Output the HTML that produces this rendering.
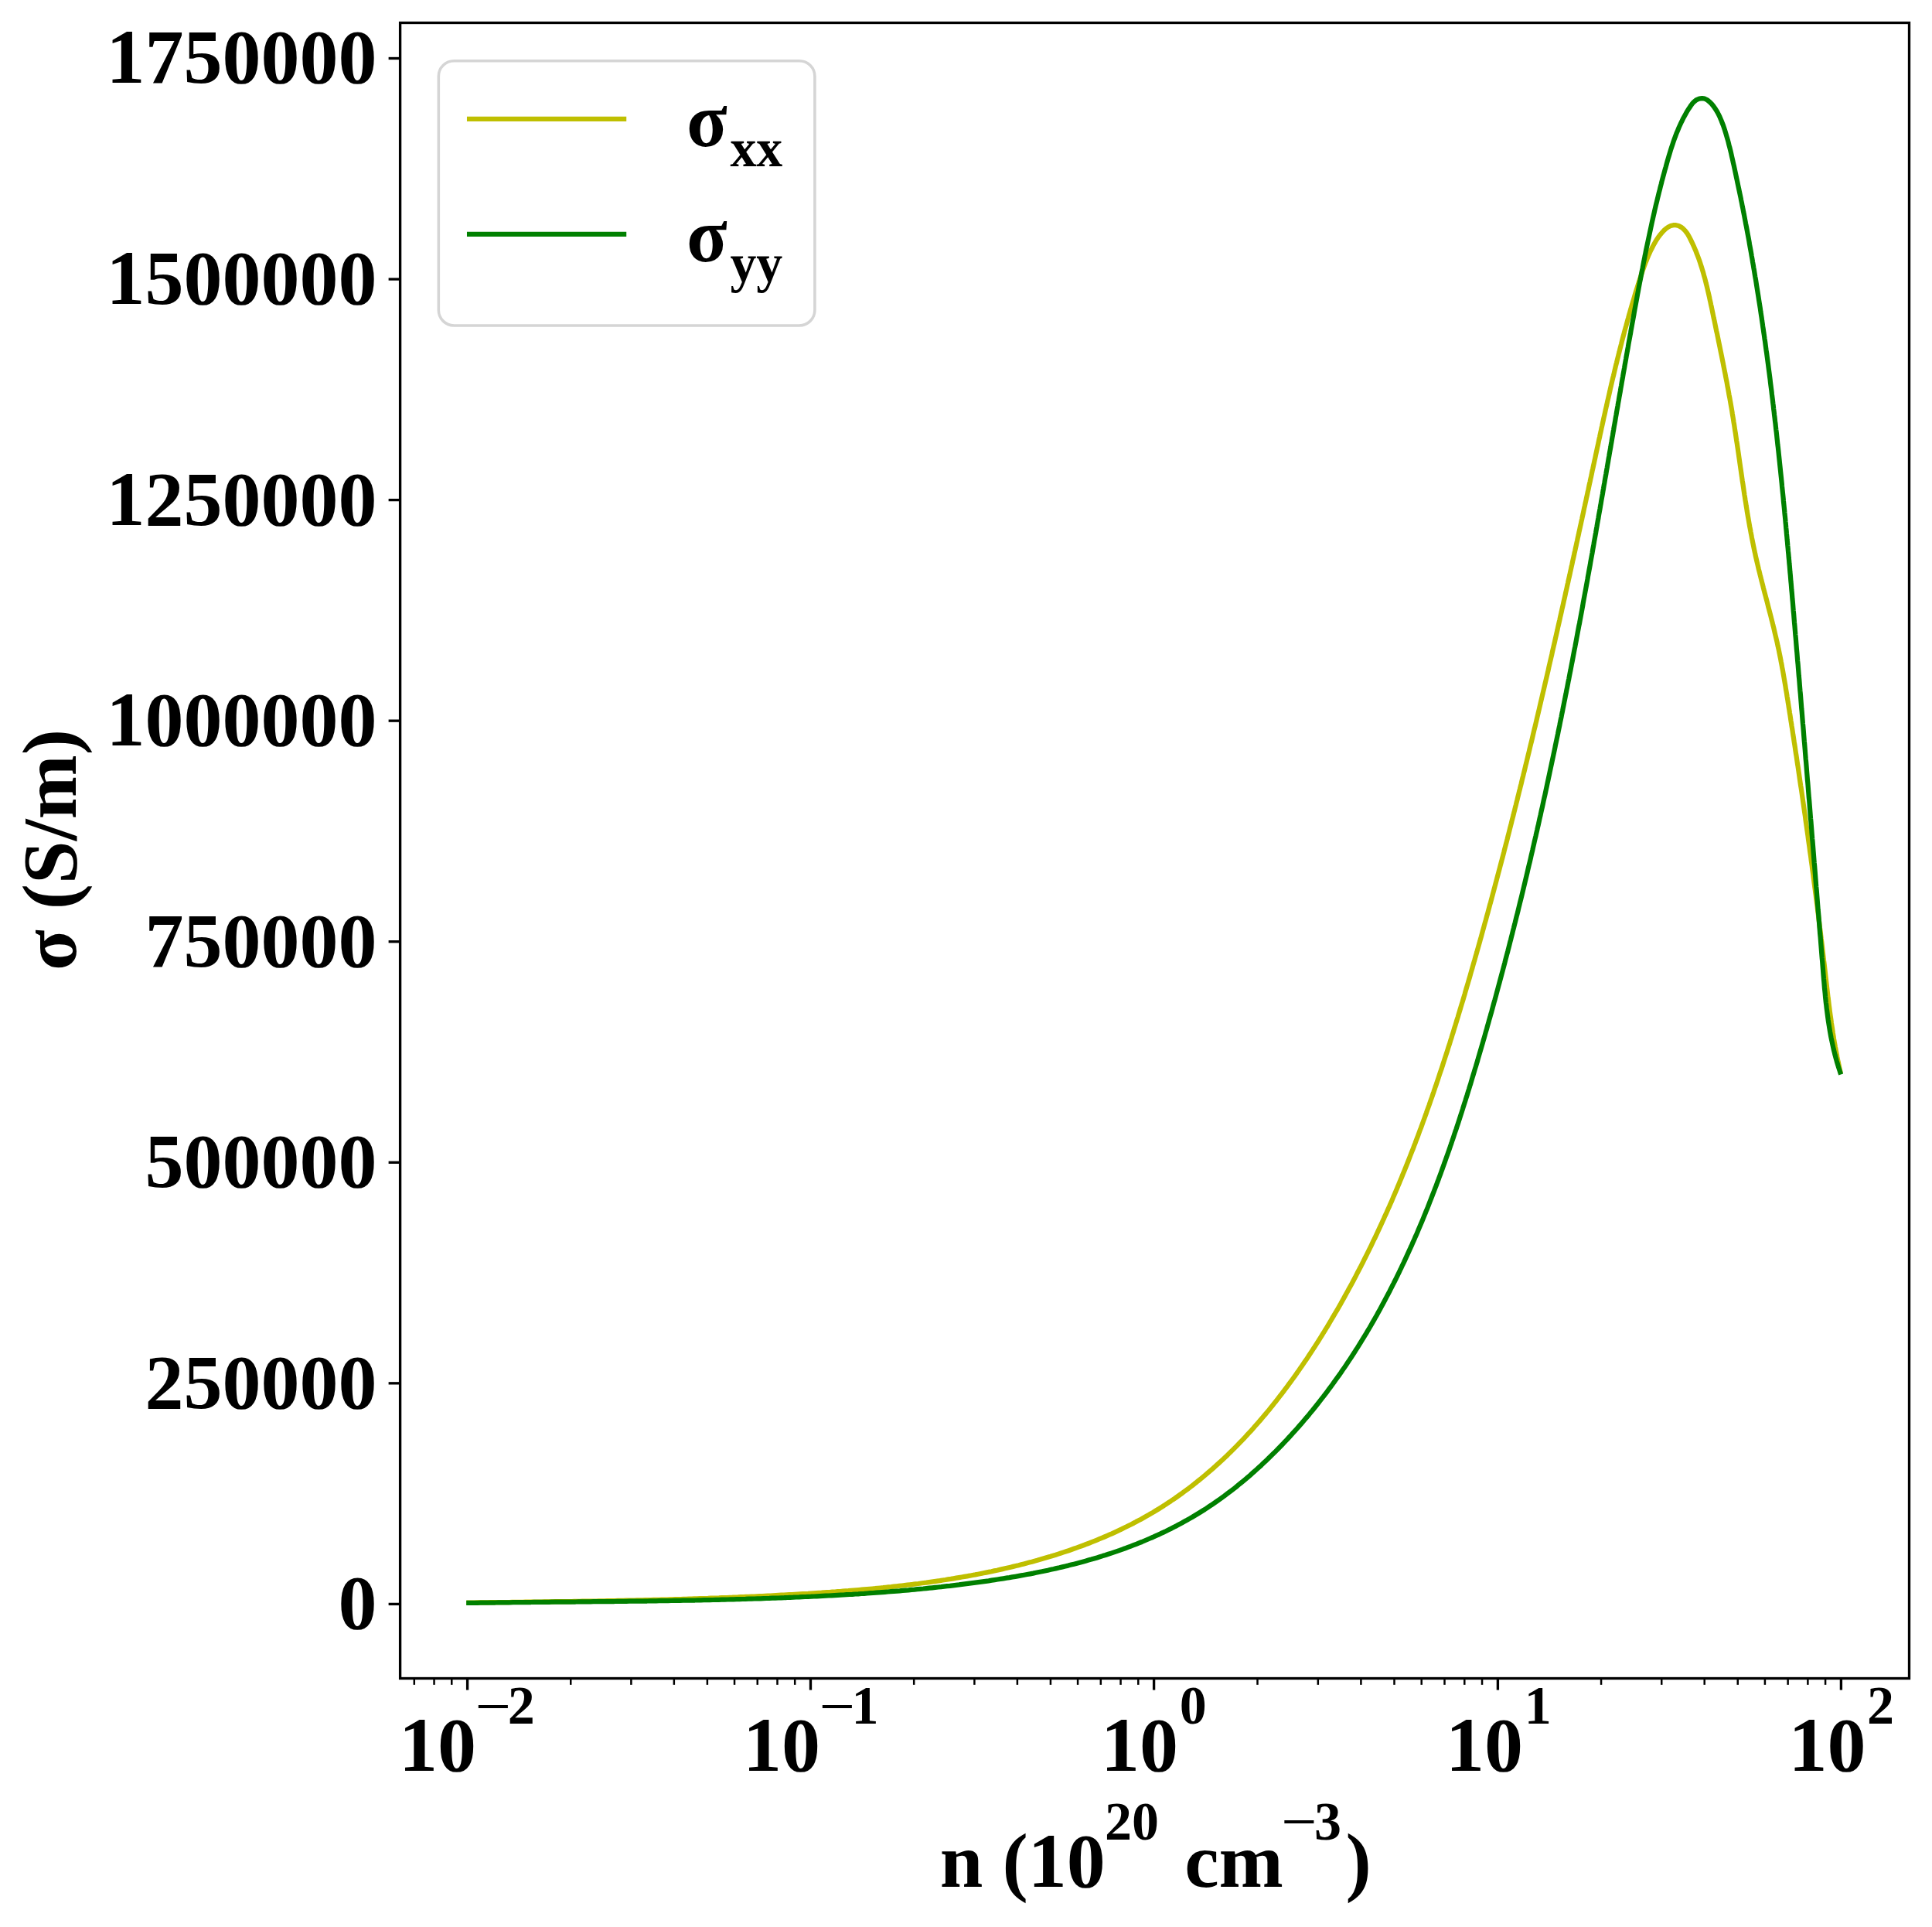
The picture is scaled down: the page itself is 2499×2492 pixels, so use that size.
<!DOCTYPE html>
<html lang="en"><head><meta charset="utf-8"><title>Conductivity vs carrier concentration</title>
<style>html,body{margin:0;padding:0;background:#fff}svg{display:block}text{font-family:"Liberation Serif", "DejaVu Serif", serif;font-weight:bold;fill:#000}</style>
</head><body>
<svg width="2499" height="2492" viewBox="0 0 2499 2492">
<rect width="2499" height="2492" fill="#fff"/>
<g fill="none" stroke-width="6.25" stroke-linecap="square" stroke-linejoin="round">
<polyline stroke="#bfbf00" points="606.5,2072.5 609.9,2072.5 613.4,2072.5 616.9,2072.4 620.3,2072.4 623.8,2072.3 627.3,2072.3 630.8,2072.3 634.3,2072.2 637.7,2072.2 641.2,2072.2 644.7,2072.1 648.2,2072.1 651.7,2072.0 655.2,2072.0 658.7,2072.0 662.2,2071.9 665.7,2071.9 669.1,2071.8 672.6,2071.8 676.1,2071.8 679.6,2071.7 683.2,2071.7 686.7,2071.6 690.2,2071.6 693.7,2071.6 697.2,2071.5 700.7,2071.5 704.2,2071.4 707.7,2071.4 711.2,2071.3 714.7,2071.3 718.2,2071.2 721.8,2071.2 725.3,2071.2 728.8,2071.1 732.3,2071.1 735.8,2071.0 739.4,2071.0 742.9,2070.9 746.4,2070.8 749.9,2070.8 753.4,2070.7 757.0,2070.7 760.5,2070.6 764.0,2070.6 767.5,2070.5 771.1,2070.5 774.6,2070.4 778.1,2070.3 781.7,2070.3 785.2,2070.2 788.7,2070.1 792.2,2070.1 795.8,2070.0 799.3,2069.9 802.8,2069.9 806.4,2069.8 809.9,2069.7 813.4,2069.7 817.0,2069.6 820.5,2069.5 824.0,2069.4 827.6,2069.3 831.1,2069.3 834.6,2069.2 838.1,2069.1 841.7,2069.0 845.2,2068.9 848.7,2068.8 852.3,2068.8 855.8,2068.7 859.3,2068.6 862.9,2068.5 866.4,2068.4 869.9,2068.3 873.5,2068.2 877.0,2068.1 880.5,2068.0 884.0,2067.9 887.6,2067.8 891.1,2067.7 894.6,2067.6 898.1,2067.4 901.7,2067.3 905.2,2067.2 908.7,2067.1 912.2,2067.0 915.8,2066.9 919.3,2066.7 922.8,2066.6 926.3,2066.5 929.9,2066.4 933.4,2066.2 936.9,2066.1 940.4,2066.0 943.9,2065.8 947.4,2065.7 951.0,2065.5 954.5,2065.4 958.0,2065.2 961.5,2065.1 965.0,2064.9 968.5,2064.8 972.0,2064.6 975.5,2064.5 979.0,2064.3 982.5,2064.1 986.0,2064.0 989.5,2063.8 993.0,2063.6 996.5,2063.5 1000.0,2063.3 1003.5,2063.1 1007.0,2062.9 1010.5,2062.7 1014.0,2062.6 1017.5,2062.4 1021.0,2062.2 1024.4,2062.0 1027.9,2061.8 1031.4,2061.6 1034.9,2061.4 1038.4,2061.2 1041.8,2061.0 1045.3,2060.8 1048.8,2060.5 1052.3,2060.3 1055.7,2060.1 1059.2,2059.9 1062.7,2059.7 1066.1,2059.4 1069.6,2059.2 1073.0,2059.0 1076.5,2058.7 1080.0,2058.5 1083.4,2058.2 1086.9,2058.0 1090.3,2057.7 1093.8,2057.4 1097.3,2057.2 1100.7,2056.9 1104.2,2056.6 1107.6,2056.3 1111.1,2056.0 1114.6,2055.7 1118.0,2055.4 1121.5,2055.1 1124.9,2054.8 1128.4,2054.5 1131.9,2054.2 1135.3,2053.8 1138.8,2053.5 1142.3,2053.2 1145.8,2052.8 1149.2,2052.4 1152.7,2052.1 1156.2,2051.7 1159.7,2051.3 1163.2,2050.9 1166.7,2050.5 1170.1,2050.1 1173.6,2049.7 1177.1,2049.3 1180.6,2048.9 1184.1,2048.4 1187.7,2048.0 1191.2,2047.5 1194.7,2047.0 1198.2,2046.6 1201.7,2046.1 1205.2,2045.6 1208.7,2045.1 1212.2,2044.6 1215.8,2044.1 1219.3,2043.5 1222.8,2043.0 1226.3,2042.4 1229.9,2041.9 1233.4,2041.3 1236.9,2040.7 1240.4,2040.1 1243.9,2039.5 1247.5,2038.9 1251.0,2038.3 1254.5,2037.7 1258.0,2037.0 1261.5,2036.4 1265.0,2035.7 1268.6,2035.0 1272.1,2034.3 1275.6,2033.6 1279.1,2032.9 1282.6,2032.2 1286.1,2031.4 1289.6,2030.7 1293.1,2029.9 1296.6,2029.1 1300.1,2028.3 1303.6,2027.5 1307.1,2026.7 1310.5,2025.9 1314.0,2025.0 1317.5,2024.2 1321.0,2023.3 1324.4,2022.4 1327.9,2021.5 1331.3,2020.6 1334.8,2019.7 1338.2,2018.7 1341.7,2017.8 1345.1,2016.8 1348.5,2015.8 1351.9,2014.8 1355.3,2013.8 1358.8,2012.8 1362.2,2011.7 1365.6,2010.7 1368.9,2009.6 1372.3,2008.5 1375.7,2007.4 1379.1,2006.3 1382.4,2005.2 1385.8,2004.0 1389.1,2002.8 1392.5,2001.6 1395.8,2000.4 1399.1,1999.2 1402.4,1998.0 1405.7,1996.7 1409.0,1995.5 1412.3,1994.2 1415.6,1992.9 1418.8,1991.6 1422.1,1990.2 1425.3,1988.9 1428.6,1987.5 1431.8,1986.1 1435.0,1984.7 1438.2,1983.3 1441.4,1981.8 1444.6,1980.3 1447.7,1978.9 1450.9,1977.4 1454.1,1975.8 1457.2,1974.3 1460.3,1972.7 1463.4,1971.2 1466.5,1969.6 1469.6,1967.9 1472.7,1966.3 1475.8,1964.7 1478.8,1963.0 1481.8,1961.3 1484.9,1959.6 1487.9,1957.8 1490.9,1956.1 1493.9,1954.3 1496.8,1952.5 1499.8,1950.7 1502.7,1948.8 1505.6,1947.0 1508.5,1945.1 1511.4,1943.2 1514.3,1941.3 1517.2,1939.3 1520.1,1937.4 1522.9,1935.4 1525.7,1933.4 1528.5,1931.4 1531.3,1929.3 1534.1,1927.3 1536.9,1925.2 1539.6,1923.1 1542.4,1921.0 1545.1,1918.8 1547.8,1916.7 1550.5,1914.5 1553.2,1912.3 1555.9,1910.1 1558.6,1907.9 1561.2,1905.7 1563.8,1903.4 1566.5,1901.1 1569.1,1898.9 1571.7,1896.5 1574.3,1894.2 1576.8,1891.9 1579.4,1889.5 1581.9,1887.2 1584.5,1884.8 1587.0,1882.4 1589.5,1879.9 1592.0,1877.5 1594.4,1875.1 1596.9,1872.6 1599.4,1870.1 1601.8,1867.6 1604.2,1865.1 1606.7,1862.6 1609.1,1860.1 1611.5,1857.5 1613.8,1854.9 1616.2,1852.4 1618.6,1849.8 1620.9,1847.2 1623.2,1844.5 1625.6,1841.9 1627.9,1839.3 1630.2,1836.6 1632.4,1834.0 1634.7,1831.3 1637.0,1828.6 1639.2,1825.9 1641.5,1823.2 1643.7,1820.4 1645.9,1817.7 1648.1,1814.9 1650.3,1812.2 1652.5,1809.4 1654.6,1806.6 1656.8,1803.8 1658.9,1801.0 1661.1,1798.2 1663.2,1795.4 1665.3,1792.6 1667.4,1789.7 1669.5,1786.9 1671.6,1784.0 1673.6,1781.2 1675.7,1778.3 1677.7,1775.4 1679.8,1772.5 1681.8,1769.6 1683.8,1766.7 1685.8,1763.8 1687.8,1760.8 1689.8,1757.9 1691.8,1755.0 1693.7,1752.0 1695.7,1749.0 1697.6,1746.1 1699.6,1743.1 1701.5,1740.1 1703.4,1737.1 1705.3,1734.2 1707.2,1731.2 1709.1,1728.2 1710.9,1725.1 1712.8,1722.1 1714.6,1719.1 1716.5,1716.1 1718.3,1713.1 1720.1,1710.0 1721.9,1707.0 1723.7,1703.9 1725.5,1700.9 1727.3,1697.8 1729.1,1694.8 1730.9,1691.7 1732.6,1688.7 1734.4,1685.6 1736.1,1682.5 1737.8,1679.4 1739.5,1676.4 1741.2,1673.3 1742.9,1670.2 1744.6,1667.1 1746.3,1664.0 1748.0,1660.9 1749.7,1657.8 1751.3,1654.7 1753.0,1651.6 1754.6,1648.4 1756.2,1645.3 1757.8,1642.2 1759.5,1639.1 1761.1,1635.9 1762.7,1632.8 1764.2,1629.7 1765.8,1626.5 1767.4,1623.4 1769.0,1620.2 1770.5,1617.1 1772.1,1613.9 1773.6,1610.8 1775.1,1607.6 1776.6,1604.4 1778.2,1601.3 1779.7,1598.1 1781.2,1594.9 1782.7,1591.7 1784.1,1588.6 1785.6,1585.4 1787.1,1582.2 1788.5,1579.0 1790.0,1575.8 1791.4,1572.6 1792.9,1569.4 1794.3,1566.2 1795.7,1563.0 1797.2,1559.8 1798.6,1556.6 1800.0,1553.4 1801.4,1550.1 1802.7,1546.9 1804.1,1543.7 1805.5,1540.5 1806.9,1537.2 1808.2,1534.0 1809.6,1530.8 1810.9,1527.5 1812.3,1524.3 1813.6,1521.0 1814.9,1517.8 1816.3,1514.5 1817.6,1511.3 1818.9,1508.0 1820.2,1504.8 1821.5,1501.5 1822.8,1498.2 1824.0,1495.0 1825.3,1491.7 1826.6,1488.4 1827.9,1485.2 1829.1,1481.9 1830.4,1478.6 1831.6,1475.3 1832.9,1472.0 1834.1,1468.8 1835.3,1465.5 1836.5,1462.2 1837.8,1458.9 1839.0,1455.6 1840.2,1452.3 1841.4,1449.0 1842.6,1445.7 1843.8,1442.4 1845.0,1439.1 1846.1,1435.8 1847.3,1432.5 1848.5,1429.2 1849.6,1425.9 1850.8,1422.5 1852.0,1419.2 1853.1,1415.9 1854.3,1412.6 1855.4,1409.3 1856.5,1405.9 1857.7,1402.6 1858.8,1399.3 1859.9,1396.0 1861.0,1392.6 1862.1,1389.3 1863.2,1386.0 1864.4,1382.6 1865.5,1379.3 1866.5,1376.0 1867.6,1372.6 1868.7,1369.3 1869.8,1365.9 1870.9,1362.6 1872.0,1359.2 1873.0,1355.9 1874.1,1352.5 1875.2,1349.2 1876.2,1345.8 1877.3,1342.5 1878.3,1339.1 1879.4,1335.8 1880.4,1332.4 1881.4,1329.0 1882.5,1325.7 1883.5,1322.3 1884.5,1319.0 1885.6,1315.6 1886.6,1312.2 1887.6,1308.9 1888.6,1305.5 1889.6,1302.1 1890.6,1298.8 1891.7,1295.4 1892.7,1292.0 1893.7,1288.7 1894.7,1285.3 1895.6,1281.9 1896.6,1278.5 1897.6,1275.2 1898.6,1271.8 1899.6,1268.4 1900.6,1265.0 1901.6,1261.6 1902.5,1258.3 1903.5,1254.9 1904.5,1251.5 1905.4,1248.1 1906.4,1244.7 1907.4,1241.4 1908.3,1238.0 1909.3,1234.6 1910.3,1231.2 1911.2,1227.8 1912.2,1224.4 1913.1,1221.1 1914.1,1217.7 1915.0,1214.3 1916.0,1210.9 1916.9,1207.5 1917.8,1204.1 1918.8,1200.7 1919.7,1197.3 1920.6,1194.0 1921.6,1190.6 1922.5,1187.2 1923.4,1183.8 1924.4,1180.4 1925.3,1177.0 1926.2,1173.6 1927.1,1170.2 1928.1,1166.8 1929.0,1163.4 1929.9,1160.0 1930.8,1156.6 1931.7,1153.2 1932.6,1149.9 1933.5,1146.5 1934.4,1143.1 1935.3,1139.7 1936.2,1136.3 1937.1,1132.9 1938.0,1129.5 1938.9,1126.1 1939.8,1122.7 1940.7,1119.3 1941.6,1115.9 1942.5,1112.5 1943.4,1109.1 1944.3,1105.7 1945.2,1102.3 1946.0,1098.9 1946.9,1095.5 1947.8,1092.1 1948.7,1088.7 1949.6,1085.3 1950.4,1081.9 1951.3,1078.5 1952.2,1075.0 1953.0,1071.6 1953.9,1068.2 1954.8,1064.8 1955.6,1061.4 1956.5,1058.0 1957.4,1054.6 1958.2,1051.2 1959.1,1047.8 1959.9,1044.4 1960.8,1041.0 1961.6,1037.6 1962.5,1034.2 1963.3,1030.8 1964.2,1027.3 1965.0,1023.9 1965.9,1020.5 1966.7,1017.1 1967.6,1013.7 1968.4,1010.3 1969.2,1006.9 1970.1,1003.5 1970.9,1000.1 1971.8,996.6 1972.6,993.2 1973.4,989.8 1974.3,986.4 1975.1,983.0 1975.9,979.6 1976.7,976.2 1977.6,972.7 1978.4,969.3 1979.2,965.9 1980.0,962.5 1980.9,959.1 1981.7,955.7 1982.5,952.2 1983.3,948.8 1984.1,945.4 1984.9,942.0 1985.8,938.6 1986.6,935.1 1987.4,931.7 1988.2,928.3 1989.0,924.9 1989.8,921.5 1990.6,918.1 1991.4,914.6 1992.2,911.2 1993.0,907.8 1993.8,904.4 1994.6,900.9 1995.4,897.5 1996.2,894.1 1997.0,890.7 1997.8,887.3 1998.6,883.8 1999.4,880.4 2000.2,877.0 2001.0,873.6 2001.8,870.1 2002.6,866.7 2003.3,863.3 2004.1,859.9 2004.9,856.4 2005.7,853.0 2006.5,849.6 2007.3,846.2 2008.0,842.7 2008.8,839.3 2009.6,835.9 2010.4,832.5 2011.2,829.0 2011.9,825.6 2012.7,822.2 2013.5,818.7 2014.3,815.3 2015.0,811.9 2015.8,808.5 2016.6,805.0 2017.4,801.6 2018.1,798.2 2018.9,794.7 2019.7,791.3 2020.4,787.9 2021.2,784.5 2022.0,781.0 2022.7,777.6 2023.5,774.2 2024.3,770.7 2025.0,767.3 2025.8,763.9 2026.6,760.4 2027.3,757.0 2028.1,753.6 2028.8,750.1 2029.6,746.7 2030.4,743.3 2031.1,739.9 2031.9,736.4 2032.6,733.0 2033.4,729.6 2034.1,726.1 2034.9,722.7 2035.7,719.3 2036.4,715.8 2037.2,712.4 2037.9,709.0 2038.7,705.5 2039.4,702.1 2040.2,698.7 2040.9,695.2 2041.7,691.8 2042.4,688.4 2043.2,684.9 2043.9,681.5 2044.7,678.0 2045.4,674.6 2046.2,671.2 2046.9,667.7 2047.7,664.3 2048.4,660.9 2049.1,657.4 2049.9,654.0 2050.6,650.6 2051.4,647.1 2052.1,643.7 2052.9,640.3 2053.6,636.8 2054.4,633.4 2055.1,629.9 2055.8,626.5 2056.6,623.1 2057.3,619.6 2058.1,616.2 2058.8,612.8 2059.5,609.3 2060.3,605.9 2061.0,602.5 2061.8,599.0 2062.5,595.6 2063.3,592.1 2064.0,588.7 2064.7,585.3 2065.5,581.8 2066.2,578.4 2067.0,575.0 2067.7,571.5 2068.4,568.1 2069.2,564.7 2069.9,561.2 2070.7,557.8 2071.4,554.3 2072.2,550.9 2072.9,547.5 2073.7,544.0 2074.4,540.6 2075.2,537.2 2076.0,533.7 2076.7,530.3 2077.5,526.9 2078.3,523.5 2079.0,520.0 2079.8,516.6 2080.6,513.2 2081.4,509.7 2082.2,506.3 2082.9,502.9 2083.7,499.5 2084.5,496.0 2085.3,492.6 2086.1,489.2 2087.0,485.8 2087.8,482.4 2088.6,478.9 2089.4,475.5 2090.2,472.1 2091.1,468.7 2091.9,465.3 2092.8,461.9 2093.6,458.5 2094.5,455.1 2095.3,451.7 2096.2,448.2 2097.1,444.8 2097.9,441.4 2098.8,438.0 2099.7,434.6 2100.6,431.2 2101.5,427.8 2102.4,424.5 2103.4,421.1 2104.3,417.7 2105.2,414.3 2106.2,410.9 2107.1,407.5 2108.1,404.1 2109.0,400.8 2110.0,397.4 2111.0,394.0 2112.0,390.6 2113.0,387.3 2114.0,383.9 2115.0,380.5 2116.0,377.1 2117.1,373.8 2118.1,370.4 2119.2,367.1 2120.2,363.7 2121.3,360.4 2122.4,357.0 2123.5,353.7 2124.6,350.3 2125.8,347.0 2127.0,343.7 2128.2,340.4 2129.5,337.2 2130.8,333.9 2132.1,330.7 2133.6,327.5 2135.0,324.3 2136.6,321.2 2138.2,318.0 2139.9,315.0 2141.6,311.9 2143.5,309.0 2145.5,306.1 2147.7,303.2 2150.0,300.5 2152.4,297.9 2155.1,295.5 2158.0,293.5 2161.1,292.0 2164.4,291.2 2167.9,291.2 2171.2,292.0 2174.3,293.6 2177.2,295.8 2179.7,298.4 2181.9,301.2 2183.8,304.2 2185.5,307.3 2187.1,310.5 2188.6,313.6 2190.1,316.8 2191.5,320.0 2192.9,323.2 2194.2,326.5 2195.5,329.8 2196.7,333.0 2197.9,336.3 2199.0,339.6 2200.1,343.0 2201.2,346.3 2202.2,349.7 2203.2,353.0 2204.1,356.4 2205.1,359.8 2206.0,363.2 2206.8,366.6 2207.7,370.0 2208.5,373.4 2209.3,376.9 2210.1,380.3 2210.9,383.7 2211.6,387.2 2212.4,390.6 2213.1,394.1 2213.9,397.5 2214.6,401.0 2215.3,404.4 2216.0,407.8 2216.7,411.3 2217.5,414.7 2218.2,418.2 2218.9,421.6 2219.6,425.1 2220.3,428.5 2221.1,431.9 2221.8,435.4 2222.5,438.8 2223.2,442.3 2223.9,445.7 2224.6,449.1 2225.3,452.6 2226.0,456.0 2226.7,459.4 2227.4,462.9 2228.1,466.3 2228.8,469.8 2229.4,473.2 2230.1,476.6 2230.8,480.1 2231.5,483.5 2232.1,486.9 2232.8,490.4 2233.5,493.8 2234.1,497.3 2234.7,500.7 2235.4,504.2 2236.0,507.6 2236.6,511.1 2237.3,514.5 2237.9,518.0 2238.5,521.4 2239.1,524.9 2239.7,528.3 2240.3,531.8 2240.8,535.3 2241.4,538.7 2242.0,542.2 2242.5,545.7 2243.1,549.1 2243.6,552.6 2244.1,556.1 2244.7,559.5 2245.2,563.0 2245.7,566.5 2246.2,570.0 2246.8,573.5 2247.3,577.0 2247.8,580.4 2248.3,583.9 2248.8,587.4 2249.3,590.9 2249.8,594.4 2250.3,597.9 2250.8,601.4 2251.3,604.9 2251.8,608.3 2252.3,611.8 2252.8,615.3 2253.3,618.8 2253.8,622.3 2254.4,625.8 2254.9,629.3 2255.4,632.8 2255.9,636.2 2256.4,639.7 2257.0,643.2 2257.5,646.7 2258.1,650.2 2258.6,653.6 2259.2,657.1 2259.7,660.6 2260.3,664.1 2260.9,667.6 2261.5,671.0 2262.1,674.5 2262.7,678.0 2263.3,681.4 2264.0,684.9 2264.6,688.3 2265.3,691.8 2265.9,695.3 2266.6,698.7 2267.3,702.2 2268.0,705.6 2268.7,709.0 2269.4,712.5 2270.2,715.9 2270.9,719.3 2271.7,722.8 2272.5,726.2 2273.3,729.6 2274.1,733.0 2274.9,736.5 2275.8,739.9 2276.6,743.3 2277.5,746.7 2278.3,750.1 2279.2,753.5 2280.1,756.9 2280.9,760.3 2281.8,763.7 2282.7,767.1 2283.6,770.5 2284.5,773.9 2285.4,777.3 2286.3,780.7 2287.1,784.1 2288.0,787.5 2288.9,790.9 2289.8,794.3 2290.7,797.7 2291.5,801.1 2292.4,804.5 2293.2,807.9 2294.1,811.3 2294.9,814.7 2295.7,818.2 2296.5,821.6 2297.3,825.0 2298.1,828.4 2298.9,831.8 2299.6,835.3 2300.4,838.7 2301.1,842.1 2301.8,845.6 2302.5,849.0 2303.2,852.5 2303.8,855.9 2304.5,859.4 2305.1,862.8 2305.8,866.3 2306.4,869.8 2307.0,873.2 2307.6,876.7 2308.2,880.1 2308.8,883.6 2309.4,887.1 2309.9,890.6 2310.5,894.0 2311.1,897.5 2311.6,901.0 2312.2,904.4 2312.7,907.9 2313.3,911.4 2313.8,914.9 2314.4,918.3 2314.9,921.8 2315.5,925.3 2316.0,928.8 2316.5,932.2 2317.1,935.7 2317.6,939.2 2318.2,942.7 2318.7,946.1 2319.2,949.6 2319.8,953.1 2320.3,956.6 2320.8,960.0 2321.4,963.5 2321.9,967.0 2322.4,970.5 2322.9,973.9 2323.5,977.4 2324.0,980.9 2324.5,984.4 2325.0,987.9 2325.6,991.3 2326.1,994.8 2326.6,998.3 2327.1,1001.8 2327.6,1005.2 2328.1,1008.7 2328.6,1012.2 2329.1,1015.7 2329.7,1019.1 2330.2,1022.6 2330.7,1026.1 2331.2,1029.6 2331.7,1033.1 2332.2,1036.5 2332.7,1040.0 2333.2,1043.5 2333.7,1047.0 2334.2,1050.5 2334.7,1053.9 2335.2,1057.4 2335.6,1060.9 2336.1,1064.4 2336.6,1067.9 2337.1,1071.3 2337.6,1074.8 2338.1,1078.3 2338.6,1081.8 2339.0,1085.3 2339.5,1088.7 2340.0,1092.2 2340.5,1095.7 2340.9,1099.2 2341.4,1102.7 2341.9,1106.1 2342.4,1109.6 2342.8,1113.1 2343.3,1116.6 2343.8,1120.1 2344.2,1123.6 2344.7,1127.0 2345.2,1130.5 2345.6,1134.0 2346.1,1137.5 2346.5,1141.0 2347.0,1144.5 2347.4,1147.9 2347.9,1151.4 2348.3,1154.9 2348.8,1158.4 2349.2,1161.9 2349.7,1165.4 2350.1,1168.9 2350.6,1172.3 2351.0,1175.8 2351.4,1179.3 2351.9,1182.8 2352.3,1186.3 2352.7,1189.8 2353.2,1193.3 2353.6,1196.8 2354.0,1200.2 2354.5,1203.7 2354.9,1207.2 2355.3,1210.7 2355.7,1214.2 2356.2,1217.7 2356.6,1221.2 2357.0,1224.7 2357.4,1228.2 2357.8,1231.7 2358.2,1235.1 2358.6,1238.6 2359.0,1242.1 2359.5,1245.6 2359.9,1249.1 2360.3,1252.6 2360.7,1256.1 2361.1,1259.6 2361.5,1263.1 2361.9,1266.6 2362.3,1270.1 2362.7,1273.6 2363.1,1277.1 2363.5,1280.6 2363.9,1284.0 2364.3,1287.5 2364.7,1291.0 2365.2,1294.5 2365.6,1298.0 2366.0,1301.5 2366.5,1305.0 2366.9,1308.5 2367.4,1311.9 2367.9,1315.4 2368.4,1318.9 2368.8,1322.4 2369.3,1325.9 2369.9,1329.3 2370.4,1332.8 2370.9,1336.3 2371.5,1339.7 2372.0,1343.2 2372.6,1346.7 2373.2,1350.1 2373.8,1353.6 2374.5,1357.0 2375.1,1360.5 2375.8,1363.9 2376.4,1367.4 2377.1,1370.8 2377.9,1374.3 2378.6,1377.7 2379.3,1381.1 2380.1,1384.6"/>
<polyline stroke="#008000" points="606.3,2072.9 610.1,2072.9 613.9,2072.8 617.8,2072.8 621.6,2072.7 625.4,2072.7 629.2,2072.6 633.1,2072.6 636.9,2072.5 640.7,2072.5 644.6,2072.4 648.4,2072.4 652.3,2072.3 656.1,2072.3 659.9,2072.3 663.8,2072.2 667.6,2072.2 671.5,2072.1 675.3,2072.1 679.1,2072.1 683.0,2072.0 686.8,2072.0 690.7,2071.9 694.5,2071.9 698.4,2071.9 702.2,2071.8 706.1,2071.8 709.9,2071.8 713.8,2071.7 717.6,2071.7 721.5,2071.7 725.3,2071.6 729.2,2071.6 733.0,2071.6 736.9,2071.5 740.7,2071.5 744.6,2071.5 748.4,2071.4 752.3,2071.4 756.1,2071.3 760.0,2071.3 763.8,2071.3 767.7,2071.2 771.5,2071.2 775.4,2071.2 779.3,2071.1 783.1,2071.1 787.0,2071.0 790.8,2071.0 794.7,2071.0 798.5,2070.9 802.4,2070.9 806.3,2070.8 810.1,2070.8 814.0,2070.7 817.8,2070.7 821.7,2070.7 825.5,2070.6 829.4,2070.6 833.3,2070.5 837.1,2070.5 841.0,2070.4 844.8,2070.4 848.7,2070.3 852.6,2070.2 856.4,2070.2 860.3,2070.1 864.1,2070.1 868.0,2070.0 871.8,2069.9 875.7,2069.9 879.6,2069.8 883.4,2069.7 887.3,2069.7 891.1,2069.6 895.0,2069.5 898.9,2069.5 902.7,2069.4 906.6,2069.3 910.4,2069.2 914.3,2069.1 918.1,2069.1 922.0,2069.0 925.8,2068.9 929.7,2068.8 933.5,2068.7 937.4,2068.6 941.3,2068.5 945.1,2068.4 949.0,2068.3 952.8,2068.2 956.7,2068.1 960.5,2068.0 964.4,2067.9 968.2,2067.7 972.1,2067.6 975.9,2067.5 979.8,2067.4 983.6,2067.3 987.5,2067.1 991.3,2067.0 995.1,2066.9 999.0,2066.7 1002.8,2066.6 1006.7,2066.5 1010.5,2066.3 1014.4,2066.2 1018.2,2066.0 1022.0,2065.8 1025.9,2065.7 1029.7,2065.5 1033.6,2065.4 1037.4,2065.2 1041.2,2065.0 1045.1,2064.8 1048.9,2064.7 1052.7,2064.5 1056.6,2064.3 1060.4,2064.1 1064.2,2063.9 1068.1,2063.7 1071.9,2063.5 1075.7,2063.3 1079.5,2063.1 1083.4,2062.9 1087.2,2062.7 1091.0,2062.5 1094.9,2062.2 1098.7,2062.0 1102.5,2061.8 1106.3,2061.5 1110.2,2061.3 1114.0,2061.0 1117.8,2060.8 1121.6,2060.5 1125.5,2060.2 1129.3,2060.0 1133.1,2059.7 1136.9,2059.4 1140.8,2059.1 1144.6,2058.8 1148.4,2058.5 1152.2,2058.2 1156.1,2057.9 1159.9,2057.6 1163.7,2057.3 1167.5,2056.9 1171.4,2056.6 1175.2,2056.3 1179.0,2055.9 1182.8,2055.6 1186.7,2055.2 1190.5,2054.8 1194.3,2054.5 1198.2,2054.1 1202.0,2053.7 1205.8,2053.3 1209.7,2052.9 1213.5,2052.5 1217.3,2052.1 1221.2,2051.6 1225.0,2051.2 1228.8,2050.8 1232.7,2050.3 1236.5,2049.8 1240.4,2049.4 1244.2,2048.9 1248.0,2048.4 1251.9,2047.9 1255.7,2047.4 1259.6,2046.9 1263.4,2046.4 1267.3,2045.9 1271.1,2045.4 1275.0,2044.8 1278.8,2044.3 1282.6,2043.7 1286.5,2043.1 1290.3,2042.5 1294.2,2041.9 1298.0,2041.3 1301.8,2040.7 1305.7,2040.1 1309.5,2039.4 1313.3,2038.8 1317.2,2038.1 1321.0,2037.4 1324.8,2036.7 1328.6,2036.0 1332.5,2035.3 1336.3,2034.6 1340.1,2033.8 1343.9,2033.0 1347.7,2032.3 1351.5,2031.5 1355.3,2030.7 1359.1,2029.8 1362.9,2029.0 1366.6,2028.1 1370.4,2027.3 1374.2,2026.4 1377.9,2025.5 1381.7,2024.6 1385.5,2023.6 1389.2,2022.7 1393.0,2021.7 1396.7,2020.7 1400.4,2019.7 1404.1,2018.7 1407.9,2017.6 1411.6,2016.6 1415.3,2015.5 1419.0,2014.4 1422.6,2013.3 1426.3,2012.1 1430.0,2011.0 1433.6,2009.8 1437.3,2008.6 1440.9,2007.4 1444.6,2006.1 1448.2,2004.9 1451.8,2003.6 1455.4,2002.3 1459.0,2000.9 1462.6,1999.6 1466.2,1998.2 1469.8,1996.8 1473.3,1995.4 1476.9,1994.0 1480.4,1992.5 1483.9,1991.0 1487.4,1989.5 1491.0,1988.0 1494.4,1986.4 1497.9,1984.9 1501.4,1983.2 1504.9,1981.6 1508.3,1980.0 1511.7,1978.3 1515.2,1976.6 1518.6,1974.8 1522.0,1973.1 1525.3,1971.3 1528.7,1969.5 1532.1,1967.6 1535.4,1965.8 1538.7,1963.9 1542.0,1962.0 1545.3,1960.0 1548.6,1958.0 1551.9,1956.0 1555.1,1954.0 1558.4,1952.0 1561.6,1949.9 1564.8,1947.7 1568.0,1945.6 1571.2,1943.4 1574.4,1941.2 1577.5,1939.0 1580.6,1936.7 1583.7,1934.5 1586.9,1932.1 1589.9,1929.8 1593.0,1927.5 1596.1,1925.1 1599.1,1922.7 1602.1,1920.2 1605.1,1917.8 1608.1,1915.3 1611.1,1912.8 1614.0,1910.3 1617.0,1907.8 1619.9,1905.2 1622.8,1902.6 1625.7,1900.0 1628.6,1897.4 1631.5,1894.8 1634.3,1892.1 1637.1,1889.4 1639.9,1886.8 1642.7,1884.0 1645.5,1881.3 1648.3,1878.6 1651.0,1875.8 1653.8,1873.0 1656.5,1870.3 1659.2,1867.5 1661.8,1864.6 1664.5,1861.8 1667.1,1859.0 1669.8,1856.1 1672.4,1853.2 1675.0,1850.4 1677.6,1847.5 1680.1,1844.6 1682.7,1841.7 1685.2,1838.7 1687.7,1835.8 1690.2,1832.9 1692.7,1829.9 1695.1,1826.9 1697.6,1824.0 1700.0,1821.0 1702.4,1818.0 1704.8,1815.0 1707.2,1811.9 1709.5,1808.9 1711.9,1805.9 1714.2,1802.8 1716.5,1799.8 1718.8,1796.7 1721.1,1793.6 1723.4,1790.5 1725.6,1787.4 1727.8,1784.3 1730.1,1781.2 1732.3,1778.1 1734.5,1775.0 1736.6,1771.8 1738.8,1768.7 1741.0,1765.5 1743.1,1762.3 1745.2,1759.1 1747.3,1756.0 1749.4,1752.8 1751.5,1749.5 1753.5,1746.3 1755.6,1743.1 1757.6,1739.9 1759.6,1736.6 1761.6,1733.4 1763.6,1730.1 1765.6,1726.9 1767.6,1723.6 1769.5,1720.3 1771.5,1717.0 1773.4,1713.7 1775.3,1710.4 1777.2,1707.1 1779.1,1703.8 1781.0,1700.4 1782.8,1697.1 1784.7,1693.8 1786.5,1690.4 1788.3,1687.0 1790.1,1683.7 1791.9,1680.3 1793.7,1676.9 1795.5,1673.5 1797.3,1670.1 1799.0,1666.7 1800.7,1663.3 1802.5,1659.9 1804.2,1656.5 1805.9,1653.1 1807.6,1649.6 1809.3,1646.2 1810.9,1642.7 1812.6,1639.3 1814.2,1635.8 1815.9,1632.4 1817.5,1628.9 1819.1,1625.4 1820.7,1621.9 1822.3,1618.4 1823.9,1614.9 1825.5,1611.4 1827.0,1607.9 1828.6,1604.4 1830.1,1600.9 1831.7,1597.4 1833.2,1593.9 1834.7,1590.3 1836.2,1586.8 1837.7,1583.2 1839.2,1579.7 1840.7,1576.1 1842.1,1572.6 1843.6,1569.0 1845.0,1565.4 1846.5,1561.9 1847.9,1558.3 1849.3,1554.7 1850.7,1551.1 1852.1,1547.5 1853.5,1543.9 1854.9,1540.3 1856.3,1536.7 1857.7,1533.1 1859.0,1529.5 1860.4,1525.9 1861.7,1522.3 1863.1,1518.6 1864.4,1515.0 1865.7,1511.4 1867.0,1507.8 1868.3,1504.1 1869.6,1500.5 1870.9,1496.8 1872.2,1493.2 1873.5,1489.5 1874.8,1485.9 1876.0,1482.2 1877.3,1478.6 1878.5,1474.9 1879.8,1471.2 1881.0,1467.6 1882.2,1463.9 1883.5,1460.2 1884.7,1456.5 1885.9,1452.9 1887.1,1449.2 1888.3,1445.5 1889.5,1441.8 1890.7,1438.1 1891.9,1434.4 1893.0,1430.7 1894.2,1427.1 1895.4,1423.4 1896.5,1419.7 1897.7,1416.0 1898.8,1412.3 1900.0,1408.6 1901.1,1404.9 1902.3,1401.2 1903.4,1397.4 1904.5,1393.7 1905.6,1390.0 1906.7,1386.3 1907.8,1382.6 1909.0,1378.9 1910.1,1375.2 1911.2,1371.5 1912.2,1367.8 1913.3,1364.1 1914.4,1360.3 1915.5,1356.6 1916.6,1352.9 1917.7,1349.2 1918.7,1345.5 1919.8,1341.8 1920.9,1338.0 1921.9,1334.3 1923.0,1330.6 1924.0,1326.9 1925.1,1323.2 1926.1,1319.4 1927.2,1315.7 1928.2,1312.0 1929.3,1308.3 1930.3,1304.6 1931.3,1300.9 1932.3,1297.1 1933.4,1293.4 1934.4,1289.7 1935.4,1286.0 1936.4,1282.2 1937.4,1278.5 1938.4,1274.8 1939.4,1271.1 1940.4,1267.4 1941.4,1263.6 1942.4,1259.9 1943.4,1256.2 1944.4,1252.5 1945.4,1248.7 1946.4,1245.0 1947.3,1241.3 1948.3,1237.5 1949.3,1233.8 1950.3,1230.1 1951.2,1226.4 1952.2,1222.6 1953.1,1218.9 1954.1,1215.2 1955.0,1211.5 1956.0,1207.7 1956.9,1204.0 1957.9,1200.3 1958.8,1196.5 1959.8,1192.8 1960.7,1189.1 1961.6,1185.3 1962.6,1181.6 1963.5,1177.9 1964.4,1174.1 1965.3,1170.4 1966.2,1166.7 1967.2,1162.9 1968.1,1159.2 1969.0,1155.5 1969.9,1151.7 1970.8,1148.0 1971.7,1144.3 1972.6,1140.5 1973.5,1136.8 1974.4,1133.1 1975.3,1129.3 1976.1,1125.6 1977.0,1121.8 1977.9,1118.1 1978.8,1114.4 1979.7,1110.6 1980.5,1106.9 1981.4,1103.1 1982.3,1099.4 1983.1,1095.7 1984.0,1091.9 1984.8,1088.2 1985.7,1084.4 1986.6,1080.7 1987.4,1076.9 1988.3,1073.2 1989.1,1069.4 1990.0,1065.7 1990.8,1062.0 1991.6,1058.2 1992.5,1054.5 1993.3,1050.7 1994.1,1047.0 1995.0,1043.2 1995.8,1039.5 1996.6,1035.7 1997.4,1032.0 1998.3,1028.2 1999.1,1024.5 1999.9,1020.7 2000.7,1017.0 2001.5,1013.2 2002.3,1009.5 2003.1,1005.7 2003.9,1002.0 2004.7,998.2 2005.5,994.4 2006.3,990.7 2007.1,986.9 2007.9,983.2 2008.7,979.4 2009.5,975.7 2010.3,971.9 2011.1,968.2 2011.8,964.4 2012.6,960.6 2013.4,956.9 2014.2,953.1 2015.0,949.4 2015.7,945.6 2016.5,941.8 2017.3,938.1 2018.0,934.3 2018.8,930.5 2019.6,926.8 2020.3,923.0 2021.1,919.3 2021.8,915.5 2022.6,911.7 2023.3,908.0 2024.1,904.2 2024.8,900.4 2025.6,896.7 2026.3,892.9 2027.1,889.1 2027.8,885.4 2028.5,881.6 2029.3,877.8 2030.0,874.0 2030.7,870.3 2031.5,866.5 2032.2,862.7 2032.9,859.0 2033.7,855.2 2034.4,851.4 2035.1,847.6 2035.8,843.9 2036.5,840.1 2037.3,836.3 2038.0,832.5 2038.7,828.8 2039.4,825.0 2040.1,821.2 2040.8,817.4 2041.5,813.6 2042.2,809.9 2043.0,806.1 2043.7,802.3 2044.4,798.5 2045.1,794.7 2045.8,791.0 2046.5,787.2 2047.2,783.4 2047.8,779.6 2048.5,775.8 2049.2,772.0 2049.9,768.2 2050.6,764.5 2051.3,760.7 2052.0,756.9 2052.7,753.1 2053.4,749.3 2054.0,745.5 2054.7,741.7 2055.4,737.9 2056.1,734.1 2056.8,730.4 2057.4,726.6 2058.1,722.8 2058.8,719.0 2059.5,715.2 2060.1,711.4 2060.8,707.6 2061.5,703.8 2062.1,700.0 2062.8,696.2 2063.5,692.4 2064.2,688.6 2064.8,684.8 2065.5,681.0 2066.1,677.2 2066.8,673.4 2067.5,669.6 2068.1,665.8 2068.8,662.0 2069.5,658.2 2070.1,654.4 2070.8,650.6 2071.4,646.8 2072.1,643.0 2072.8,639.2 2073.4,635.4 2074.1,631.6 2074.7,627.8 2075.4,624.0 2076.0,620.2 2076.7,616.4 2077.4,612.6 2078.0,608.8 2078.7,605.0 2079.3,601.2 2080.0,597.4 2080.6,593.6 2081.3,589.8 2081.9,586.0 2082.6,582.2 2083.3,578.4 2083.9,574.6 2084.6,570.8 2085.2,567.0 2085.9,563.2 2086.5,559.4 2087.2,555.6 2087.8,551.8 2088.5,548.0 2089.2,544.1 2089.8,540.3 2090.5,536.5 2091.1,532.7 2091.8,528.9 2092.5,525.1 2093.1,521.3 2093.8,517.5 2094.4,513.7 2095.1,509.9 2095.8,506.1 2096.4,502.3 2097.1,498.5 2097.7,494.7 2098.4,490.9 2099.1,487.1 2099.7,483.3 2100.4,479.5 2101.1,475.7 2101.7,471.9 2102.4,468.1 2103.1,464.3 2103.7,460.5 2104.4,456.7 2105.1,452.9 2105.8,449.1 2106.4,445.3 2107.1,441.5 2107.8,437.7 2108.5,433.9 2109.2,430.1 2109.8,426.3 2110.5,422.6 2111.2,418.8 2111.9,415.0 2112.6,411.2 2113.3,407.4 2113.9,403.6 2114.6,399.8 2115.3,396.0 2116.0,392.2 2116.7,388.4 2117.4,384.6 2118.1,380.8 2118.8,377.1 2119.5,373.3 2120.2,369.5 2120.9,365.7 2121.7,361.9 2122.4,358.1 2123.1,354.4 2123.8,350.6 2124.6,346.8 2125.3,343.0 2126.0,339.2 2126.8,335.5 2127.5,331.7 2128.3,327.9 2129.0,324.2 2129.8,320.4 2130.6,316.6 2131.4,312.9 2132.2,309.1 2133.0,305.3 2133.8,301.6 2134.6,297.8 2135.4,294.1 2136.2,290.3 2137.0,286.6 2137.9,282.8 2138.7,279.1 2139.6,275.3 2140.4,271.6 2141.3,267.8 2142.2,264.1 2143.1,260.4 2144.0,256.6 2144.9,252.9 2145.8,249.2 2146.8,245.5 2147.7,241.7 2148.7,238.0 2149.6,234.3 2150.6,230.6 2151.6,226.9 2152.6,223.2 2153.6,219.5 2154.7,215.8 2155.7,212.1 2156.7,208.4 2157.8,204.7 2158.9,201.0 2160.0,197.3 2161.1,193.7 2162.3,190.0 2163.5,186.4 2164.7,182.7 2166.0,179.1 2167.4,175.5 2168.7,171.9 2170.2,168.4 2171.7,164.8 2173.3,161.3 2174.9,157.8 2176.6,154.3 2178.4,150.9 2180.3,147.5 2182.2,144.1 2184.3,140.7 2186.5,137.4 2188.8,134.2 2191.4,131.4 2194.4,129.1 2198.0,127.6 2201.6,127.1 2205.1,127.7 2208.3,129.3 2211.3,131.7 2214.1,134.5 2216.7,137.8 2219.0,141.1 2221.1,144.5 2222.9,147.9 2224.6,151.4 2226.1,154.9 2227.5,158.5 2228.9,162.0 2230.1,165.6 2231.3,169.3 2232.4,172.9 2233.5,176.6 2234.6,180.3 2235.6,184.0 2236.5,187.7 2237.5,191.4 2238.4,195.1 2239.3,198.9 2240.1,202.6 2241.0,206.4 2241.8,210.1 2242.7,213.9 2243.5,217.7 2244.3,221.4 2245.1,225.2 2245.9,229.0 2246.7,232.7 2247.5,236.5 2248.3,240.3 2249.1,244.0 2249.9,247.8 2250.7,251.6 2251.5,255.3 2252.2,259.1 2253.0,262.9 2253.7,266.7 2254.5,270.4 2255.2,274.2 2256.0,278.0 2256.7,281.8 2257.4,285.5 2258.1,289.3 2258.9,293.1 2259.6,296.9 2260.3,300.7 2261.0,304.5 2261.7,308.2 2262.4,312.0 2263.0,315.8 2263.7,319.6 2264.4,323.4 2265.1,327.2 2265.7,331.0 2266.4,334.8 2267.0,338.6 2267.7,342.3 2268.3,346.1 2269.0,349.9 2269.6,353.7 2270.2,357.5 2270.9,361.3 2271.5,365.1 2272.1,368.9 2272.7,372.7 2273.3,376.5 2273.9,380.3 2274.5,384.1 2275.1,387.9 2275.7,391.7 2276.3,395.5 2276.9,399.3 2277.4,403.1 2278.0,406.9 2278.6,410.8 2279.1,414.6 2279.7,418.4 2280.2,422.2 2280.8,426.0 2281.3,429.8 2281.9,433.6 2282.4,437.4 2283.0,441.2 2283.5,445.0 2284.0,448.9 2284.5,452.7 2285.1,456.5 2285.6,460.3 2286.1,464.1 2286.6,467.9 2287.1,471.7 2287.6,475.6 2288.1,479.4 2288.6,483.2 2289.1,487.0 2289.6,490.8 2290.0,494.7 2290.5,498.5 2291.0,502.3 2291.5,506.1 2291.9,509.9 2292.4,513.8 2292.9,517.6 2293.3,521.4 2293.8,525.2 2294.2,529.1 2294.7,532.9 2295.1,536.7 2295.6,540.5 2296.0,544.4 2296.5,548.2 2296.9,552.0 2297.3,555.8 2297.8,559.7 2298.2,563.5 2298.6,567.3 2299.0,571.1 2299.4,575.0 2299.9,578.8 2300.3,582.6 2300.7,586.5 2301.1,590.3 2301.5,594.1 2301.9,598.0 2302.3,601.8 2302.7,605.6 2303.1,609.5 2303.5,613.3 2303.9,617.1 2304.3,621.0 2304.7,624.8 2305.0,628.6 2305.4,632.5 2305.8,636.3 2306.2,640.1 2306.6,644.0 2306.9,647.8 2307.3,651.6 2307.7,655.5 2308.1,659.3 2308.4,663.1 2308.8,667.0 2309.2,670.8 2309.5,674.6 2309.9,678.5 2310.2,682.3 2310.6,686.1 2310.9,690.0 2311.3,693.8 2311.6,697.7 2312.0,701.5 2312.3,705.3 2312.7,709.2 2313.0,713.0 2313.4,716.8 2313.7,720.7 2314.1,724.5 2314.4,728.4 2314.8,732.2 2315.1,736.0 2315.4,739.9 2315.8,743.7 2316.1,747.5 2316.4,751.4 2316.8,755.2 2317.1,759.1 2317.4,762.9 2317.8,766.7 2318.1,770.6 2318.4,774.4 2318.8,778.3 2319.1,782.1 2319.4,785.9 2319.7,789.8 2320.1,793.6 2320.4,797.4 2320.7,801.3 2321.0,805.1 2321.4,809.0 2321.7,812.8 2322.0,816.6 2322.3,820.5 2322.7,824.3 2323.0,828.1 2323.3,832.0 2323.6,835.8 2323.9,839.7 2324.3,843.5 2324.6,847.3 2324.9,851.2 2325.2,855.0 2325.6,858.8 2325.9,862.7 2326.2,866.5 2326.5,870.3 2326.8,874.2 2327.2,878.0 2327.5,881.8 2327.8,885.7 2328.1,889.5 2328.4,893.3 2328.8,897.2 2329.1,901.0 2329.4,904.9 2329.7,908.7 2330.0,912.5 2330.3,916.4 2330.7,920.2 2331.0,924.0 2331.3,927.9 2331.6,931.7 2331.9,935.5 2332.3,939.4 2332.6,943.2 2332.9,947.0 2333.2,950.9 2333.5,954.7 2333.8,958.5 2334.2,962.4 2334.5,966.2 2334.8,970.0 2335.1,973.9 2335.4,977.7 2335.7,981.5 2336.1,985.4 2336.4,989.2 2336.7,993.0 2337.0,996.9 2337.3,1000.7 2337.6,1004.5 2337.9,1008.4 2338.3,1012.2 2338.6,1016.0 2338.9,1019.9 2339.2,1023.7 2339.5,1027.5 2339.8,1031.4 2340.2,1035.2 2340.5,1039.0 2340.8,1042.9 2341.1,1046.7 2341.4,1050.6 2341.7,1054.4 2342.0,1058.2 2342.4,1062.1 2342.7,1065.9 2343.0,1069.7 2343.3,1073.6 2343.6,1077.4 2343.9,1081.2 2344.2,1085.1 2344.6,1088.9 2344.9,1092.7 2345.2,1096.6 2345.5,1100.4 2345.8,1104.2 2346.1,1108.1 2346.4,1111.9 2346.7,1115.8 2347.1,1119.6 2347.4,1123.4 2347.7,1127.3 2348.0,1131.1 2348.3,1134.9 2348.6,1138.8 2348.9,1142.6 2349.2,1146.5 2349.6,1150.3 2349.9,1154.1 2350.2,1158.0 2350.5,1161.8 2350.8,1165.7 2351.1,1169.5 2351.4,1173.3 2351.7,1177.2 2352.1,1181.0 2352.4,1184.9 2352.7,1188.7 2353.0,1192.5 2353.3,1196.4 2353.6,1200.2 2353.9,1204.1 2354.2,1207.9 2354.6,1211.7 2354.9,1215.6 2355.2,1219.4 2355.5,1223.3 2355.8,1227.1 2356.1,1231.0 2356.4,1234.8 2356.7,1238.6 2357.1,1242.5 2357.4,1246.3 2357.7,1250.2 2358.0,1254.0 2358.3,1257.9 2358.6,1261.7 2358.9,1265.6 2359.3,1269.4 2359.6,1273.2 2359.9,1277.1 2360.3,1280.9 2360.7,1284.8 2361.0,1288.6 2361.4,1292.4 2361.8,1296.3 2362.3,1300.1 2362.7,1303.9 2363.2,1307.7 2363.7,1311.5 2364.2,1315.4 2364.7,1319.2 2365.3,1323.0 2365.9,1326.8 2366.5,1330.5 2367.1,1334.3 2367.8,1338.1 2368.5,1341.9 2369.3,1345.7 2370.1,1349.4 2370.9,1353.2 2371.7,1356.9 2372.7,1360.7 2373.6,1364.4 2374.6,1368.1 2375.6,1371.8 2376.7,1375.5 2377.8,1379.2 2379.0,1382.9 2380.2,1386.6"/>
</g>
<g stroke="#000" stroke-width="3.333" fill="none">
<line x1="502.60" y1="2074.40" x2="517.60" y2="2074.40"/>
<line x1="502.60" y1="1788.84" x2="517.60" y2="1788.84"/>
<line x1="502.60" y1="1503.28" x2="517.60" y2="1503.28"/>
<line x1="502.60" y1="1217.72" x2="517.60" y2="1217.72"/>
<line x1="502.60" y1="932.16" x2="517.60" y2="932.16"/>
<line x1="502.60" y1="646.60" x2="517.60" y2="646.60"/>
<line x1="502.60" y1="361.04" x2="517.60" y2="361.04"/>
<line x1="502.60" y1="75.48" x2="517.60" y2="75.48"/>
<line x1="604.60" y1="2170.50" x2="604.60" y2="2185.50"/>
<line x1="1048.50" y1="2170.50" x2="1048.50" y2="2185.50"/>
<line x1="1492.60" y1="2170.50" x2="1492.60" y2="2185.50"/>
<line x1="1937.40" y1="2170.50" x2="1937.40" y2="2185.50"/>
<line x1="2381.40" y1="2170.50" x2="2381.40" y2="2185.50"/>
</g>
<g stroke="#000" stroke-width="2.5" fill="none">
<line x1="535.79" y1="2170.50" x2="535.79" y2="2178.83"/>
<line x1="561.55" y1="2170.50" x2="561.55" y2="2178.83"/>
<line x1="584.27" y1="2170.50" x2="584.27" y2="2178.83"/>
<line x1="738.23" y1="2170.50" x2="738.23" y2="2178.83"/>
<line x1="816.39" y1="2170.50" x2="816.39" y2="2178.83"/>
<line x1="871.85" y1="2170.50" x2="871.85" y2="2178.83"/>
<line x1="914.87" y1="2170.50" x2="914.87" y2="2178.83"/>
<line x1="950.02" y1="2170.50" x2="950.02" y2="2178.83"/>
<line x1="979.74" y1="2170.50" x2="979.74" y2="2178.83"/>
<line x1="1005.48" y1="2170.50" x2="1005.48" y2="2178.83"/>
<line x1="1028.19" y1="2170.50" x2="1028.19" y2="2178.83"/>
<line x1="1182.19" y1="2170.50" x2="1182.19" y2="2178.83"/>
<line x1="1260.39" y1="2170.50" x2="1260.39" y2="2178.83"/>
<line x1="1315.87" y1="2170.50" x2="1315.87" y2="2178.83"/>
<line x1="1358.91" y1="2170.50" x2="1358.91" y2="2178.83"/>
<line x1="1394.08" y1="2170.50" x2="1394.08" y2="2178.83"/>
<line x1="1423.81" y1="2170.50" x2="1423.81" y2="2178.83"/>
<line x1="1449.56" y1="2170.50" x2="1449.56" y2="2178.83"/>
<line x1="1472.28" y1="2170.50" x2="1472.28" y2="2178.83"/>
<line x1="1626.50" y1="2170.50" x2="1626.50" y2="2178.83"/>
<line x1="1704.82" y1="2170.50" x2="1704.82" y2="2178.83"/>
<line x1="1760.40" y1="2170.50" x2="1760.40" y2="2178.83"/>
<line x1="1803.50" y1="2170.50" x2="1803.50" y2="2178.83"/>
<line x1="1838.72" y1="2170.50" x2="1838.72" y2="2178.83"/>
<line x1="1868.50" y1="2170.50" x2="1868.50" y2="2178.83"/>
<line x1="1894.29" y1="2170.50" x2="1894.29" y2="2178.83"/>
<line x1="1917.05" y1="2170.50" x2="1917.05" y2="2178.83"/>
<line x1="2071.06" y1="2170.50" x2="2071.06" y2="2178.83"/>
<line x1="2149.24" y1="2170.50" x2="2149.24" y2="2178.83"/>
<line x1="2204.71" y1="2170.50" x2="2204.71" y2="2178.83"/>
<line x1="2247.74" y1="2170.50" x2="2247.74" y2="2178.83"/>
<line x1="2282.90" y1="2170.50" x2="2282.90" y2="2178.83"/>
<line x1="2312.62" y1="2170.50" x2="2312.62" y2="2178.83"/>
<line x1="2338.37" y1="2170.50" x2="2338.37" y2="2178.83"/>
<line x1="2361.08" y1="2170.50" x2="2361.08" y2="2178.83"/>
</g>
<rect x="517.6" y="29.5" width="1951.90" height="2141.00" fill="none" stroke="#000" stroke-width="3.333" stroke-linejoin="miter"/>
<text x="487.40" y="2106.30" font-size="100" text-anchor="end">0</text>
<text x="487.40" y="1820.74" font-size="100" text-anchor="end">250000</text>
<text x="487.40" y="1535.18" font-size="100" text-anchor="end">500000</text>
<text x="487.40" y="1249.62" font-size="100" text-anchor="end">750000</text>
<text x="487.40" y="964.06" font-size="100" text-anchor="end">1000000</text>
<text x="487.40" y="678.50" font-size="100" text-anchor="end">1250000</text>
<text x="487.40" y="392.94" font-size="100" text-anchor="end">1500000</text>
<text x="487.40" y="107.38" font-size="100" text-anchor="end">1750000</text>
<text x="516.00" y="2290.20" font-size="100" text-anchor="start">10</text>
<text transform="translate(614.58,2225.61) scale(1.1709,0.8184)" font-size="70">−</text>
<text x="656.70" y="2229.40" font-size="70" text-anchor="start">2</text>
<text x="960.90" y="2290.20" font-size="100" text-anchor="start">10</text>
<text transform="translate(1059.48,2225.61) scale(1.1709,0.8184)" font-size="70">−</text>
<text x="1101.60" y="2229.40" font-size="70" text-anchor="start">1</text>
<text x="1424.10" y="2290.20" font-size="100" text-anchor="start">10</text>
<text x="1525.70" y="2229.40" font-size="70" text-anchor="start">0</text>
<text x="1870.10" y="2290.20" font-size="100" text-anchor="start">10</text>
<text x="1971.70" y="2229.40" font-size="70" text-anchor="start">1</text>
<text x="2313.40" y="2290.20" font-size="100" text-anchor="start">10</text>
<text x="2415.00" y="2229.40" font-size="70" text-anchor="start">2</text>
<text x="1215.80" y="2440.00" font-size="100" text-anchor="start">n (10</text>
<text x="1429.00" y="2379.20" font-size="70" text-anchor="start">20</text>
<text x="1532.20" y="2440.00" font-size="100" text-anchor="start">cm</text>
<text transform="translate(1657.08,2375.41) scale(1.1709,0.8184)" font-size="70">−</text>
<text x="1699.90" y="2379.20" font-size="70" text-anchor="start">3</text>
<text x="1740.40" y="2440.00" font-size="100" text-anchor="start">)</text>
<text transform="translate(98.30,1254.90) rotate(-90) scale(0.97,0.99)" font-size="100">σ</text>
<text transform="translate(97.70,1176.20) rotate(-90)" font-size="100">(S/m)</text>
<rect x="567.3" y="78.7" width="486.6" height="342.3" rx="20" ry="20" fill="#fff" fill-opacity="0.8" stroke="#d5d5d5" stroke-width="3.6"/>
<g fill="none" stroke-width="6.25" stroke-linecap="square">
<line x1="607.1" y1="153.8" x2="807.1" y2="153.8" stroke="#bfbf00"/>
<line x1="607.1" y1="302.8" x2="807.1" y2="302.8" stroke="#008000"/>
</g>
<text transform="translate(887.90,188.60) scale(0.97,0.99)" font-size="100">σ</text>
<text transform="translate(944.40,215.30) scale(0.97,1.0)" font-size="70">xx</text>
<text transform="translate(887.90,337.60) scale(0.97,0.99)" font-size="100">σ</text>
<text transform="translate(944.40,364.30) scale(0.97,1.0)" font-size="70">yy</text>
</svg></body></html>
